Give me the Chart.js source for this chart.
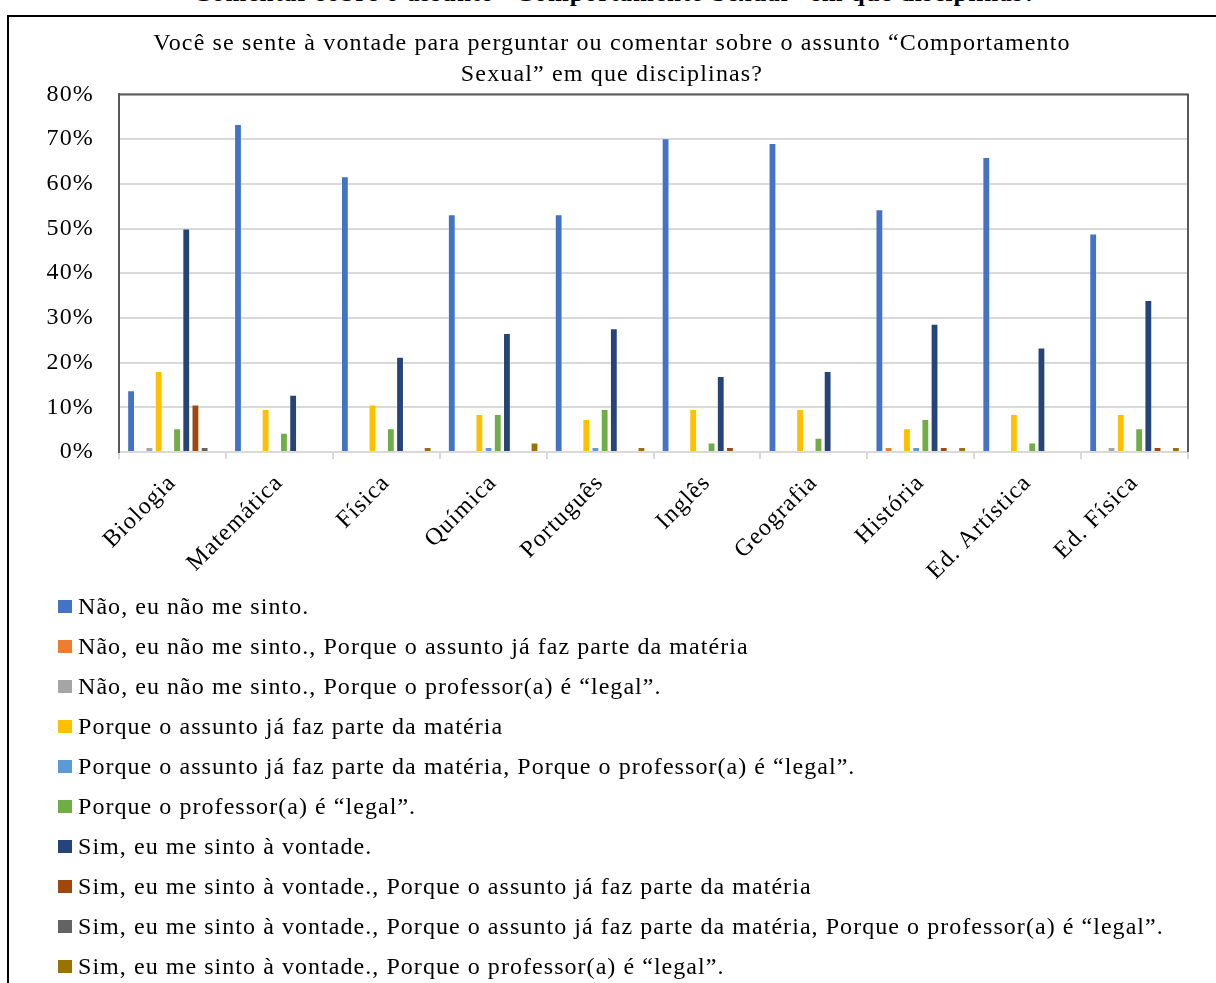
<!DOCTYPE html>
<html lang="pt-BR">
<head>
<meta charset="utf-8">
<title>Comportamento Sexual - disciplinas</title>
<script src="https://cdn.jsdelivr.net/npm/chart.js@4.4.1/dist/chart.umd.min.js"></script>
<style>
  html, body { margin: 0; padding: 0; background: #fff; }
  body { width: 1216px; height: 983px; position: relative; overflow: hidden; font-family: 'Liberation Serif', 'Times New Roman', serif; }
  #caption { position: absolute; left: 0; width: 1230px; top: -20px; text-align: center; font-weight: bold; font-size: 25px; line-height: 26px; letter-spacing: 1px; color: #000; }
  #frame { position: absolute; left: 7px; top: 15px; width: 1300px; height: 1100px; border-left: 2px solid #000; border-top: 2px solid #000; }
  #wrap { position: absolute; left: 0; top: 0; width: 1216px; height: 592px; }
  #legend { position: absolute; left: 58px; top: 586px; margin: 0; padding: 0; list-style: none; }
  #legend li { height: 40px; display: flex; align-items: center; font-size: 24px; letter-spacing: 1.05px; color: #000; white-space: nowrap; }
  #legend .box { width: 14px; height: 13px; margin-right: 6px; flex: none; }
</style>
</head>
<body>
<div id="caption">Comentar sobre o assunto “Comportamento Sexual” em que disciplinas?</div>
<div id="frame"></div>
<div id="wrap"><canvas id="chart"></canvas></div>
<ul id="legend"></ul>
<script>
const disciplinas = ['Biologia', 'Matemática', 'Física', 'Química', 'Português', 'Inglês', 'Geografia', 'História', 'Ed. Artística', 'Ed. Física'];
const yTicks = [0, 10, 20, 30, 40, 50, 60, 70, 80];

const respostas = [
    'Não, eu não me sinto.',
    'Não, eu não me sinto., Porque o assunto já faz parte da matéria',
    'Não, eu não me sinto., Porque o professor(a) é “legal”.',
    'Porque o assunto já faz parte da matéria',
    'Porque o assunto já faz parte da matéria, Porque o professor(a) é “legal”.',
    'Porque o professor(a) é “legal”.',
    'Sim, eu me sinto à vontade.',
    'Sim, eu me sinto à vontade., Porque o assunto já faz parte da matéria',
    'Sim, eu me sinto à vontade., Porque o assunto já faz parte da matéria, Porque o professor(a) é “legal”.',
    'Sim, eu me sinto à vontade., Porque o professor(a) é “legal”.'
];

const cores = ['#4472C4', '#ED7D31', '#A5A5A5', '#FFC000', '#5B9BD5', '#70AD47', '#264478', '#9E480E', '#636363', '#997300'];

// percentages per discipline, one array per answer
const naoSinto          = [13.8, 73.4, 61.7, 53.2, 53.2, 70.2, 69.1, 54.3, 66.0, 48.9];
const naoAssunto        = [0, 0, 0, 0, 0, 0, 0, 1.1, 0, 0];
const naoProfessor      = [1.1, 0, 0, 0, 0, 0, 0, 0, 0, 1.1];
const assunto           = [18.1, 9.6, 10.6, 8.5, 7.4, 9.6, 9.6, 5.3, 8.5, 8.5];
const assuntoProfessor  = [0, 0, 0, 1.1, 1.1, 0, 0, 1.1, 0, 0];
const professor         = [5.3, 4.3, 5.3, 8.5, 9.6, 2.1, 3.2, 7.4, 2.1, 5.3];
const simSinto          = [50.0, 12.8, 21.3, 26.6, 27.7, 17.0, 18.1, 28.7, 23.4, 34.0];
const simAssunto        = [10.6, 0, 0, 0, 0, 1.1, 0, 1.1, 0, 1.1];
const simAssuntoProf    = [1.1, 0, 0, 0, 0, 0, 0, 0, 0, 0];
const simProfessor      = [0, 0, 1.1, 2.1, 1.1, 0, 0, 1.1, 0, 1.1];

const series = [naoSinto, naoAssunto, naoProfessor, assunto, assuntoProfessor, professor, simSinto, simAssunto, simAssuntoProf, simProfessor];

const FONT = "'Liberation Serif', 'Times New Roman', serif";

// slightly wider text, like the Word/Excel rendering
const textSpacing = {
    id: 'textSpacing',
    beforeDraw(chart) {
        chart.ctx.letterSpacing = '1.15px';
    }
};

// frame around the plot area: top and right edges
const plotBorder = {
    id: 'plotBorder',
    afterDraw(chart) {
        const { ctx, chartArea: a } = chart;
        ctx.save();
        ctx.strokeStyle = '#595959';
        ctx.lineWidth = 2;
        ctx.beginPath();
        ctx.moveTo(a.left, a.top);
        ctx.lineTo(a.right, a.top);
        ctx.lineTo(a.right, a.bottom);
        ctx.stroke();
        ctx.restore();
    }
};

const datasets = series.map((vals, i) => ({
    label: respostas[i],
    data: vals,
    backgroundColor: cores[i],
    borderColor: 'rgba(255,255,255,0.25)',
    borderWidth: c => (c.raw > 0 ? 1 : 0),
    borderSkipped: 'bottom',
    categoryPercentage: 0.86,
    barPercentage: 0.85
}));

const chart = new Chart(document.getElementById('chart'), {
    type: 'bar',
    data: { labels: disciplinas, datasets: datasets },
    options: {
        responsive: true,
        maintainAspectRatio: false,
        animation: false,
        layout: { padding: { top: 28, right: 0, left: 8, bottom: 0 } },
        plugins: {
            legend: { display: false },
            tooltip: { enabled: false },
            title: {
                display: true,
                text: ['Você se sente à vontade para perguntar ou comentar sobre o assunto “Comportamento', 'Sexual” em que disciplinas?'],
                color: '#000',
                font: { family: FONT, size: 24, weight: 'normal', lineHeight: 1.3 },
                padding: { top: 0, bottom: 4 }
            }
        },
        scales: {
            x: {
                grid: { display: true, drawOnChartArea: false, drawTicks: true, tickLength: 7, color: '#D9D9D9', lineWidth: 2 },
                border: { color: '#D9D9D9', width: 2 },
                ticks: {
                    color: '#000',
                    font: { family: FONT, size: 24 },
                    minRotation: 45,
                    maxRotation: 45,
                    padding: 10,
                    autoSkip: false
                },
                afterFit(scale) { scale.height = 140; }
            },
            y: {
                min: 0,
                max: 80,
                afterBuildTicks(scale) { scale.ticks = yTicks.map(v => ({ value: v })); },
                grid: { color: '#D9D9D9', lineWidth: 2, drawTicks: false },
                border: { color: '#595959', width: 2 },
                ticks: {
                    color: '#000',
                    font: { family: FONT, size: 24 },
                    padding: 25,
                    callback: v => v + '%'
                },
                afterFit(scale) { scale.width = 111; }
            },
            // empty right-hand axis, only reserves the margin right of the plot
            margem: {
                position: 'right',
                display: true,
                grid: { display: false },
                border: { display: false },
                ticks: { display: false },
                afterFit(scale) { scale.width = 28; }
            }
        }
    },
    plugins: [textSpacing, plotBorder]
});

// single-column legend below the chart
const legendEl = document.getElementById('legend');
chart.data.datasets.forEach(ds => {
    const li = document.createElement('li');
    const box = document.createElement('span');
    box.className = 'box';
    box.style.background = ds.backgroundColor;
    li.appendChild(box);
    li.appendChild(document.createTextNode(ds.label));
    legendEl.appendChild(li);
});
</script>
</body>
</html>
